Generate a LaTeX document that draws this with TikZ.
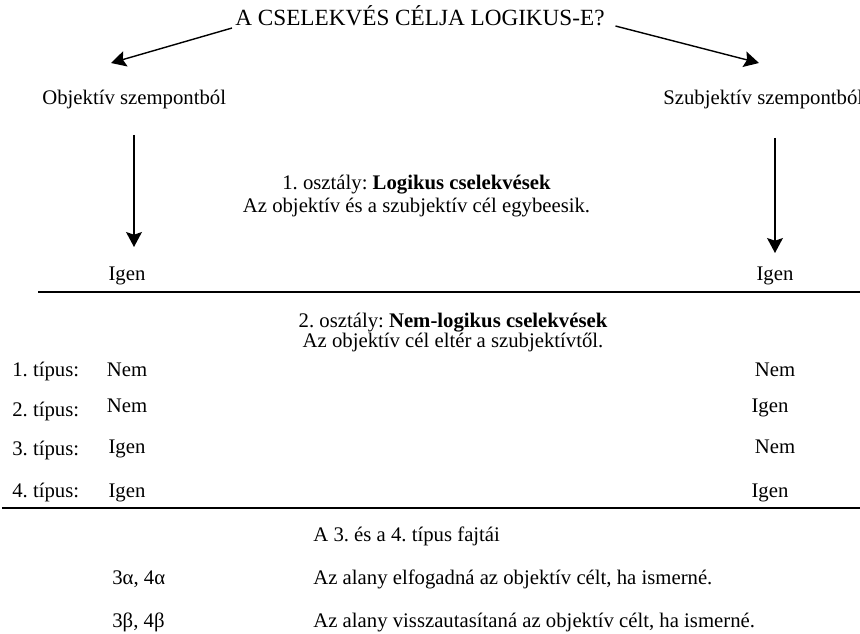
\documentclass[tikz,border=0pt]{standalone}
\usepackage{fontspec}
\setmainfont{Liberation Serif}
\usetikzlibrary{arrows.meta}
\frenchspacing

\begin{document}
\begin{tikzpicture}[scale=0.2]
	\tikzstyle{every node}+=[inner sep=0pt, font=\fontsize{11.8}{14}\selectfont]
	\tikzstyle{arr}=[line width=0.8pt, -{Stealth[length=8.5pt, width=9pt, inset=1.5pt]}]
	\tikzstyle{rule}=[line width=1.2pt]
	\tikzstyle{lbl}=[anchor=base]
	\tikzstyle{lft}=[anchor=base west]
	\useasboundingbox (0,0) rectangle (86,-63.3);
	% question and the two points of view
	\node [lbl, font=\fontsize{13.2}{16}\selectfont] (title) at (42.0,-2.6) {A CSELEKVÉS CÉLJA LOGIKUS-E?};
	\node [lft] (obj) at (4.2,-10.5) {Objektív szempontból};
	\node [lft] (subj) at (66.3,-10.5) {Szubjektív szempontból};
	\coordinate (objtip) at (11.1,-6.3);
	\coordinate (subjtip) at (75.9,-6.3);
	\draw [arr] ([shift={(-0.3,-0.2)}]title.base west) -- (objtip);
	\draw [arr] ([shift={(1.05,0)}]title.base east) -- (subjtip);
	\coordinate (objfrom) at (13.4,-13.5);
	\coordinate (objto) at (13.4,-24.7);
	\coordinate (subjfrom) at (77.5,-13.8);
	\coordinate (subjto) at (77.5,-25.3);
	\draw [arr] (objfrom) -- (objto);
	\draw [arr] (subjfrom) -- (subjto);
	% first class
	\node [lbl] (oszt1) at (41.65,-18.9) {1. osztály: \textbf{Logikus cselekvések}};
	\node [lbl] (oszt1b) at (41.65,-21.2) {Az objektív és a szubjektív cél egybeesik.};
	\node [lbl] (igenL) at (12.7,-28.0) {Igen};
	\node [lbl] (igenR) at (77.5,-28.0) {Igen};
	\coordinate (rule1a) at (3.8,-29.2);
	\coordinate (rule1b) at (86,-29.2);
	\draw [rule] (rule1a) -- (rule1b);
	% second class
	\node [lbl] (oszt2) at (45.3,-32.7) {2. osztály: \textbf{Nem-logikus cselekvések}};
	\node [lbl] (oszt2b) at (45.3,-34.7) {Az objektív cél eltér a szubjektívtől.};
	\node [lft] (tip1) at (1.2,-37.6) {1. típus:};
	\node [lbl] (tip1o) at (12.7,-37.6) {Nem};
	\node [lbl] (tip1s) at (77.5,-37.6) {Nem};
	\node [lft] (tip2) at (1.2,-41.6) {2. típus:};
	\node [lbl] (tip2o) at (12.7,-41.2) {Nem};
	\node [lbl] (tip2s) at (77.0,-41.2) {Igen};
	\node [lft] (tip3) at (1.2,-45.5) {3. típus:};
	\node [lbl] (tip3o) at (12.7,-45.3) {Igen};
	\node [lbl] (tip3s) at (77.5,-45.3) {Nem};
	\node [lft] (tip4) at (1.2,-49.7) {4. típus:};
	\node [lbl] (tip4o) at (12.7,-49.7) {Igen};
	\node [lbl] (tip4s) at (77.0,-49.7) {Igen};
	\coordinate (rule2a) at (0.2,-50.8);
	\coordinate (rule2b) at (86,-50.8);
	\draw [rule] (rule2a) -- (rule2b);
	% kinds of types 3 and 4
	\node [lft] (fajtak) at (31.3,-54.1) {A 3. és a 4. típus fajtái};
	\node [lft] (alfa) at (11.2,-58.4) {3α, 4α};
	\node [lft] (alfat) at (31.3,-58.4) {Az alany elfogadná az objektív célt, ha ismerné.};
	\node [lft] (beta) at (11.2,-62.7) {3β, 4β};
	\node [lft] (betat) at (31.3,-62.7) {Az alany visszautasítaná az objektív célt, ha ismerné.};
\end{tikzpicture}
\end{document}
